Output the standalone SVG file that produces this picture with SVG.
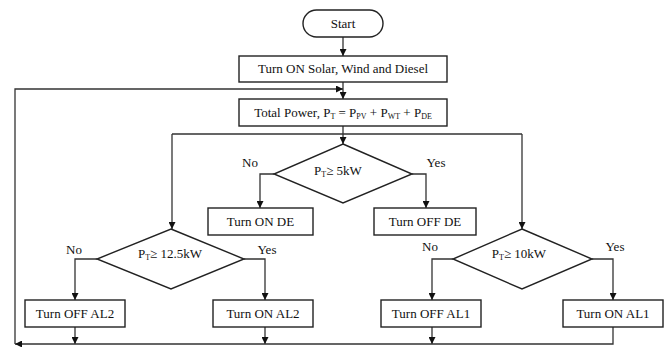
<svg xmlns="http://www.w3.org/2000/svg" width="667" height="347" viewBox="0 0 667 347" font-family="'Liberation Serif', 'Times New Roman', 'DejaVu Serif', serif">
<defs>
<marker id="ah" viewBox="0 0 8 8" refX="8" refY="4" markerWidth="7" markerHeight="7" markerUnits="userSpaceOnUse" orient="auto">
<path d="M0,0 L8,4 L0,8 Z" fill="#111"/>
</marker>
<style>
.sh{fill:#fff;stroke:#222;stroke-width:1.4}
.ln{fill:none;stroke:#333;stroke-width:1.3}
.ar{fill:none;stroke:#333;stroke-width:1.3;marker-end:url(#ah)}
text{font-family:'Liberation Serif','Times New Roman','DejaVu Serif',serif;font-size:13px;fill:#111}
.c{text-anchor:middle}
.s{font-size:8px}
</style>
</defs>
<rect width="667" height="347" fill="#fff"/>
<g id="connectors">
<path class="ar" d="M343,37 V56"/>
<path class="ar" d="M343,82 V99"/>
<path class="ln" d="M343,126 V134 M172,134 H522"/>
<path class="ar" d="M343,134 V144"/>
<path class="ar" d="M172,134 V229"/>
<path class="ar" d="M522,134 V229"/>
<path class="ar" d="M274,174 H260 V208"/>
<path class="ar" d="M412,174 H426 V208"/>
<path class="ar" d="M97,259 H75 V300"/>
<path class="ar" d="M244,259 H265 V300"/>
<path class="ar" d="M453,259 H432 V300"/>
<path class="ar" d="M592,259 H613 V300"/>
<path class="ar" d="M75,327 V344"/>
<path class="ar" d="M265,327 V344"/>
<path class="ar" d="M432,327 V344"/>
<path class="ar" d="M613,327 V344 H15"/>
<path class="ar" d="M15,344 V89 H343"/>
</g>
<g id="start">
<rect class="sh" x="303" y="10" width="80" height="27" rx="13.5"/>
<text class="c" x="343" y="28">Start</text>
</g>
<g id="turn-on-all">
<rect class="sh" x="239" y="56" width="208" height="26"/>
<text class="c" x="343" y="73">Turn ON Solar, Wind and Diesel</text>
</g>
<g id="total-power">
<rect class="sh" x="239" y="99" width="208" height="27"/>
<text class="c" x="343" y="117">Total Power, P<tspan class="s" dy="2">T</tspan><tspan dy="-2"> = P</tspan><tspan class="s" dy="2">PV</tspan><tspan dy="-2"> + P</tspan><tspan class="s" dy="2">WT</tspan><tspan dy="-2"> + P</tspan><tspan class="s" dy="2">DE</tspan></text>
</g>
<g id="dec-5kw">
<polygon class="sh" points="343,144 412,174 343,203 274,174"/>
<text class="c" x="338" y="175">P<tspan class="s" dy="2">T</tspan><tspan dy="-2">≥ 5kW</tspan></text>
<text class="c" x="250" y="167">No</text>
<text class="c" x="436" y="167">Yes</text>
</g>
<g id="turn-on-de">
<rect class="sh" x="208" y="208" width="105" height="27"/>
<text class="c" x="260.5" y="226">Turn ON DE</text>
</g>
<g id="turn-off-de">
<rect class="sh" x="374" y="208" width="102" height="27"/>
<text class="c" x="425" y="226">Turn OFF DE</text>
</g>
<g id="dec-12kw">
<polygon class="sh" points="171,229 244,259 171,289 97,259"/>
<text class="c" x="170" y="258">P<tspan class="s" dy="2">T</tspan><tspan dy="-2">≥ 12.5kW</tspan></text>
<text class="c" x="74" y="254">No</text>
<text class="c" x="267" y="254">Yes</text>
</g>
<g id="dec-10kw">
<polygon class="sh" points="522,229 592,259 522,289 453,259"/>
<text class="c" x="519" y="258">P<tspan class="s" dy="2">T</tspan><tspan dy="-2">≥ 10kW</tspan></text>
<text class="c" x="430" y="251">No</text>
<text class="c" x="615" y="251">Yes</text>
</g>
<g id="turn-off-al2">
<rect class="sh" x="25" y="300" width="100" height="27"/>
<text class="c" x="75" y="318">Turn OFF AL2</text>
</g>
<g id="turn-on-al2">
<rect class="sh" x="213" y="300" width="100" height="27"/>
<text class="c" x="263" y="318">Turn ON AL2</text>
</g>
<g id="turn-off-al1">
<rect class="sh" x="381" y="300" width="100" height="27"/>
<text class="c" x="431" y="318">Turn OFF AL1</text>
</g>
<g id="turn-on-al1">
<rect class="sh" x="563" y="300" width="100" height="27"/>
<text class="c" x="613" y="318">Turn ON AL1</text>
</g>
</svg>
